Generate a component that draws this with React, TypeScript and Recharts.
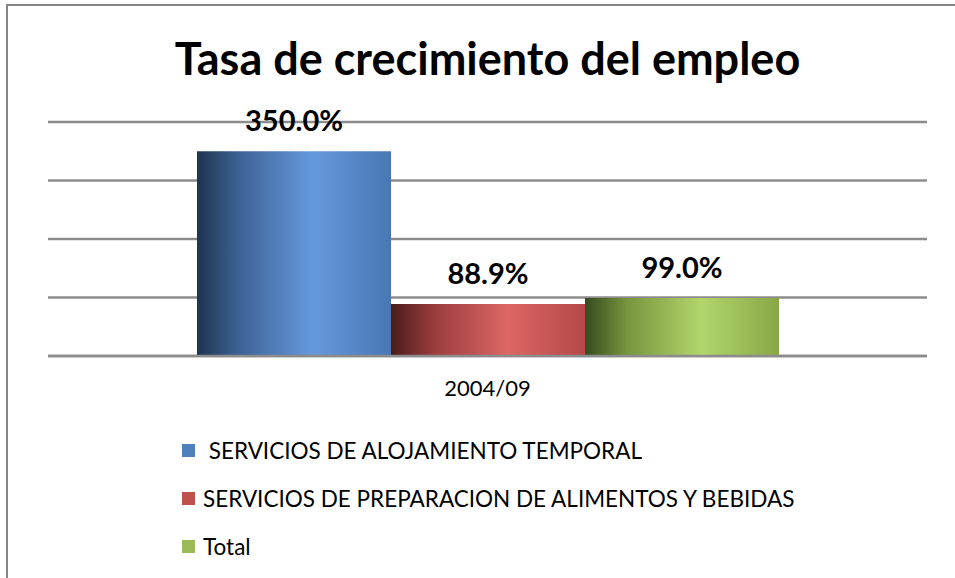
import React from 'react';
import { BarChart, Bar, XAxis, YAxis, CartesianGrid, Legend, LabelList } from 'recharts';

const periods = ['2004/09'];
const seriesNames = [
  ' SERVICIOS DE ALOJAMIENTO TEMPORAL',
  'SERVICIOS DE PREPARACION DE ALIMENTOS Y BEBIDAS',
  'Total',
];
const alojamiento = [350.0];
const preparacion = [88.9];
const total = [99.0];
const yTicks = [0, 100, 200, 300, 400];

const seriesKeys = ['alojamiento', 'preparacion', 'total'];
const swatch = ['#4f81bd', '#c0504d', '#9bbb59'];

// gradient stops: dark edge, mid, highlight, right edge
const gradients = [
  ['#1e3450', '#3d6396', '#6699dc', '#4977b6'],
  ['#4a1c1c', '#9a3c3c', '#dd6666', '#b54848'],
  ['#364a1e', '#78963e', '#b3d56c', '#87a746'],
];

const data = periods.map((p, i) => ({
  periodo: p,
  alojamiento: alojamiento[i],
  preparacion: preparacion[i],
  total: total[i],
}));

const font = 'Lato, "Open Sans", sans-serif';
const gray = '#8c8c8c';

const fmt = (v: any) => `${Number(v).toFixed(1)}%`;

const LegendContent = () => (
  <div style={{ fontFamily: font, fontSize: 22.5, color: '#000' }}>
    {seriesNames.map((name, i) => (
      <div key={name} style={{ display: 'flex', alignItems: 'center', height: 48, whiteSpace: 'pre' }}>
        <span style={{ display: 'inline-block', width: 13, height: 13, background: swatch[i], marginRight: 8 }} />
        <span>{name}</span>
      </div>
    ))}
  </div>
);

export default function App() {
  return (
    <div style={{ position: 'fixed', left: 0, top: 0, width: 955, height: 578, overflow: 'hidden', background: '#fff' }}>
      <div
        style={{
          position: 'absolute',
          left: 6,
          top: 4,
          width: 1000,
          height: 700,
          border: '2.5px solid #858585',
          boxSizing: 'border-box',
        }}
      />
      <div
        style={{
          position: 'absolute',
          left: 0,
          width: 975,
          top: 31,
          textAlign: 'center',
          fontFamily: font,
          fontWeight: 700,
          fontSize: 45,
          lineHeight: '54px',
          color: '#000',
        }}
      >
        Tasa de crecimiento del empleo
      </div>
      <div style={{ position: 'absolute', left: 0, top: 0 }}>
        <BarChart
          width={955}
          height={578}
          data={data}
          margin={{ top: 122, right: 28, left: 48, bottom: 186 }}
          barSize={194}
          barGap={0}
        >
          <defs>
            {gradients.map((g, i) => (
              <linearGradient key={i} id={`grad${i}`} x1="0" y1="0" x2="1" y2="0">
                <stop offset="0%" stopColor={g[0]} />
                <stop offset="22%" stopColor={g[1]} />
                <stop offset="60%" stopColor={g[2]} />
                <stop offset="100%" stopColor={g[3]} />
              </linearGradient>
            ))}
          </defs>
          <CartesianGrid vertical={false} stroke={gray} strokeWidth={2.5} />
          <XAxis
            xAxisId={0}
            type="number"
            domain={[0, 1]}
            ticks={[0, 1]}
            tick={false}
            axisLine={false}
            tickLine={{ stroke: gray, strokeWidth: 2.5 }}
            tickSize={8}
            height={0}
          />
          <XAxis
            xAxisId="cat"
            dataKey="periodo"
            axisLine={{ stroke: gray, strokeWidth: 2.5 }}
            tickLine={false}
            tick={{ fontFamily: font, fontSize: 22, fill: '#000' }}
            tickMargin={18}
            height={36}
          />
          <YAxis hide domain={[0, 400]} ticks={yTicks} />
          <Legend
            layout="vertical"
            align="center"
            verticalAlign="middle"
            wrapperStyle={{ left: 182, top: 426, width: 700 }}
            content={<LegendContent />}
          />
          {seriesKeys.map((k, i) => (
            <Bar key={k} xAxisId="cat" dataKey={k} name={seriesNames[i]} fill={`url(#grad${i})`} isAnimationActive={false}>
              <LabelList
                dataKey={k}
                position="top"
                offset={20}
                formatter={fmt}
                style={{ fontFamily: font, fontSize: 29, fontWeight: 700, fill: '#000' }}
              />
            </Bar>
          ))}
        </BarChart>
      </div>
    </div>
  );
}
